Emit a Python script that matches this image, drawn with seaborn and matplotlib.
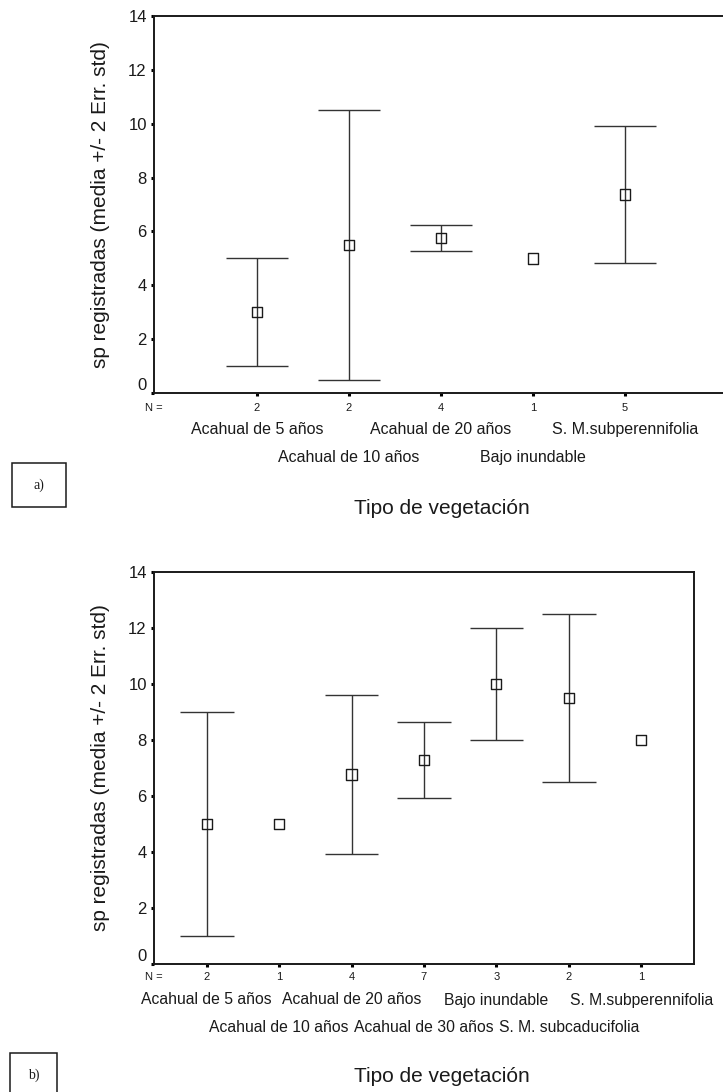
import numpy as np
import pandas as pd
import matplotlib
matplotlib.use("Agg")
import matplotlib.pyplot as plt
import seaborn as sns
from matplotlib.patches import Rectangle
from matplotlib.transforms import blended_transform_factory

sns.set_theme(style="white")
plt.rcParams['font.family'] = ['Liberation Sans', 'DejaVu Sans']

# a) species recorded per vegetation type
veg_a = ["Acahual de 5 años", "Acahual de 10 años", "Acahual de 20 años",
         "Bajo inundable", "S. M.subperennifolia"]
n_a = [2, 2, 4, 1, 5]
media_a = [3.0, 5.5, 5.75, 5.0, 7.37]
err2_a = [2.0, 5.0, 0.48, 0.0, 2.56]

# b) species recorded per vegetation type
veg_b = ["Acahual de 5 años", "Acahual de 10 años", "Acahual de 20 años",
         "Acahual de 30 años", "Bajo inundable", "S. M. subcaducifolia",
         "S. M.subperennifolia"]
n_b = [2, 1, 4, 7, 3, 2, 1]
media_b = [5.0, 5.0, 6.77, 7.29, 10.0, 9.5, 8.0]
err2_b = [4.0, 0.0, 2.85, 1.35, 2.0, 3.0, 0.0]

y_ticks = [0, 2, 4, 6, 8, 10, 12, 14]
y_title = "sp registradas (media +/- 2 Err. std)"
x_title = "Tipo de vegetación"

W, H = 723, 1092
LINE = "#333333"
INK = "#1a1a1a"

fig = plt.figure(figsize=(W / 100, H / 100), dpi=100)


def fx(x):
    return x / W


def fy(y):
    return 1 - y / H


def panel(rect, cats, ns, media, err2, xlim, cap_half, n_y, row_y,
          cat_fs, title_y, box, box_text):
    left, top, right, bottom = rect
    ax = fig.add_axes([fx(left), fy(bottom), (right - left) / W, (bottom - top) / H])
    df = pd.DataFrame({"pos": np.arange(len(cats)), "media": media, "err": err2})
    bars = df[df["err"] > 0]
    lo = bars["media"] - bars["err"]
    hi = bars["media"] + bars["err"]
    ax.vlines(bars["pos"], lo, hi, color=LINE, lw=1.0, zorder=2)
    ax.hlines(lo, bars["pos"] - cap_half, bars["pos"] + cap_half, color=LINE, lw=1.0, zorder=2)
    ax.hlines(hi, bars["pos"] - cap_half, bars["pos"] + cap_half, color=LINE, lw=1.0, zorder=2)
    sns.scatterplot(data=df, x="pos", y="media", marker="s", s=55,
                    facecolor="none", edgecolor=INK, linewidth=1.0,
                    ax=ax, zorder=3, legend=False)

    ax.set_xlim(*xlim)
    ax.set_ylim(0, 14)
    ax.set_xlabel("")
    ax.set_ylabel("")
    ax.set_yticks(y_ticks)
    ax.set_yticklabels([str(v) for v in y_ticks], fontsize=12, color=INK)
    ax.set_xticks(df["pos"])
    ax.set_xticklabels([""] * len(cats))
    ax.tick_params(axis="both", which="major", direction="out", length=2.2,
                   width=2.2, color="black", bottom=True, left=True, pad=3)
    for s in ax.spines.values():
        s.set_color(INK)
        s.set_linewidth(1.4)
    for lab in ax.get_yticklabels():
        if lab.get_text() == "0":
            lab.set_va("bottom")

    tr = blended_transform_factory(ax.transData, fig.transFigure)
    fig.text(fx(145), fy(n_y), "N =", fontsize=8, color=INK, ha="left", va="center")
    for p, n in zip(df["pos"], ns):
        ax.text(p, fy(n_y), str(n), transform=tr, fontsize=8, color=INK,
                ha="center", va="center")
    for p, c in zip(df["pos"], cats):
        ax.text(p, fy(row_y[p % 2]), c, transform=tr, fontsize=cat_fs,
                color=INK, ha="center", va="center")

    fig.text(fx(101), fy((top + bottom) / 2), y_title, rotation=90, fontsize=15,
             color=INK, ha="center", va="center")
    fig.text(fx(442), fy(title_y), x_title, fontsize=15, color=INK,
             ha="center", va="center")

    bx0, by0, bx1, by1 = box
    fig.patches.append(Rectangle((fx(bx0), fy(by1)), (bx1 - bx0) / W, (by1 - by0) / H,
                                 transform=fig.transFigure, fill=False,
                                 edgecolor=INK, lw=1.1))
    fig.text(fx((bx0 + bx1) / 2), fy((by0 + by1) / 2), box_text,
             family=["Liberation Serif", "DejaVu Serif"], fontsize=10,
             color=INK, ha="center", va="center")
    return ax


panel((154, 16, 728, 393), veg_a, n_a, media_a, err2_a,
      xlim=(-1.12, 5.12), cap_half=0.335, n_y=408, row_y=(430, 457),
      cat_fs=11.5, title_y=508, box=(12, 463, 66, 507), box_text="a)")

panel((154, 572, 694, 964), veg_b, n_b, media_b, err2_b,
      xlim=(-0.728, 6.73), cap_half=0.37, n_y=977, row_y=(1000, 1028),
      cat_fs=11.3, title_y=1077, box=(10, 1053, 57, 1097), box_text="b)")

fig.savefig("out.png", dpi=100, facecolor="white")
